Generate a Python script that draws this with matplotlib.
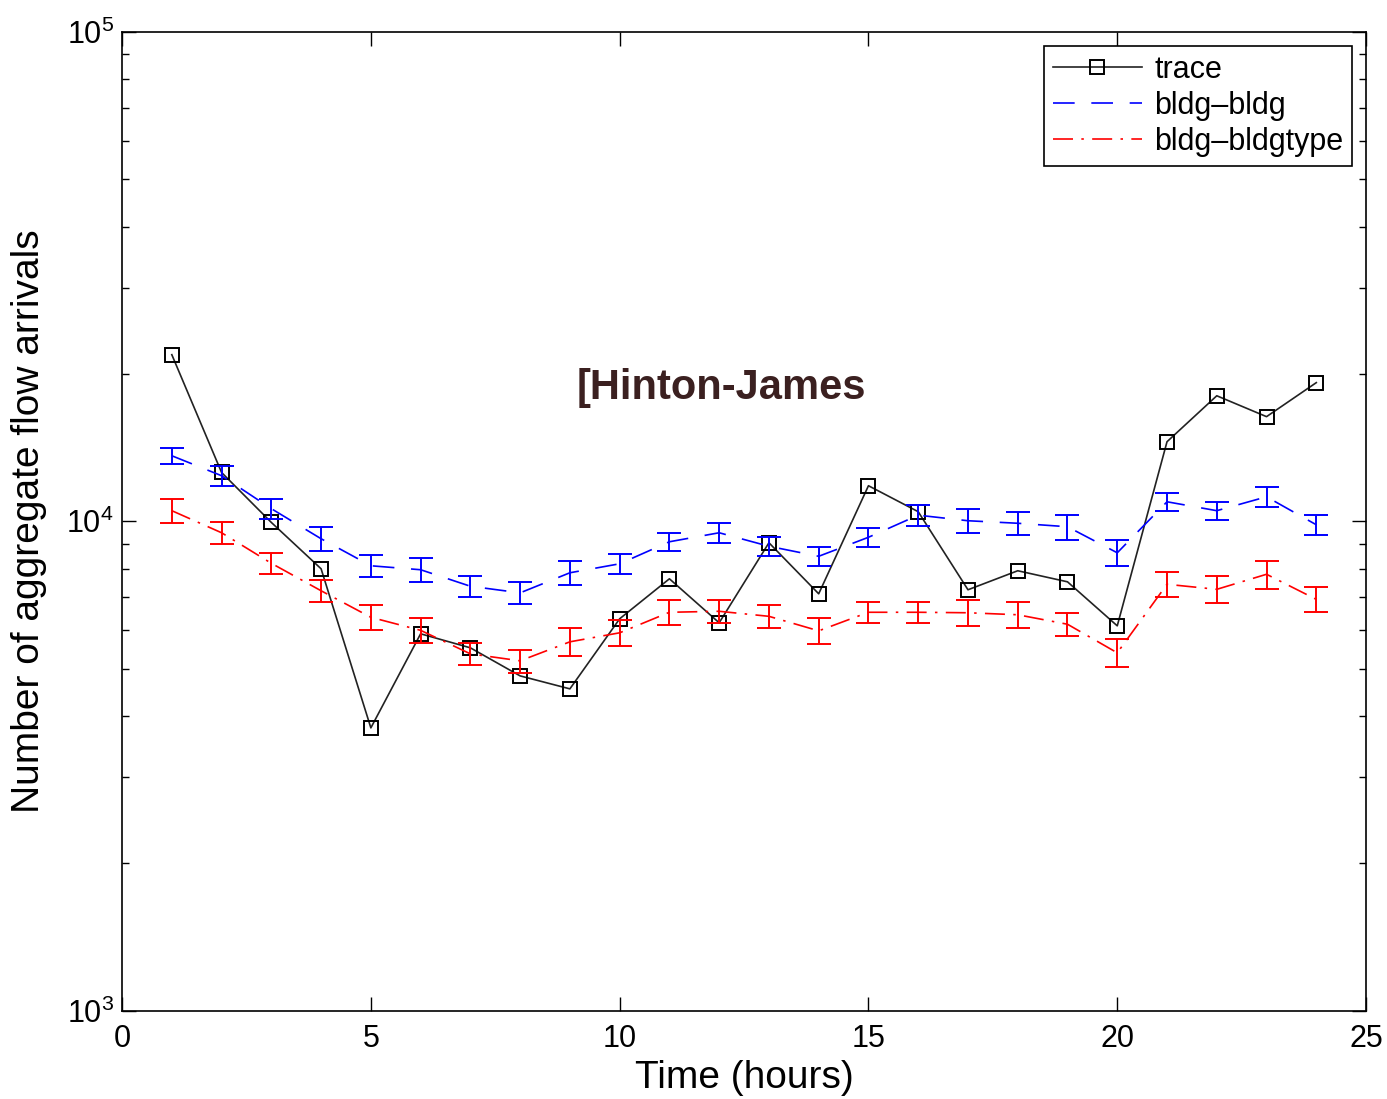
import matplotlib
matplotlib.use('Agg')
import matplotlib.pyplot as plt

plt.rcParams['font.family'] = ['Liberation Sans', 'DejaVu Sans']

# hourly aggregate flow arrivals
hours = list(range(1, 25))

trace = [21900, 12580, 9944, 7995, 3782, 5888, 5512, 4830, 4544, 6319, 7628, 6201,
         9038, 7108, 11820, 10460, 7244, 7922, 7520, 6113, 14540, 18050, 16360, 19200]

bldg_bldg = [13610, 12390, 10610, 9210, 8110, 7960, 7365, 7140, 7847, 8186, 9080, 9473,
             8890, 8480, 9274, 10290, 10024, 9906, 9745, 8621, 10960, 10510, 11220, 9836]
bldg_bldg_err = [520, 560, 510, 530, 430, 460, 370, 380, 450, 400, 390, 450,
                 400, 380, 420, 510, 570, 540, 570, 530, 460, 440, 530, 460]

bldg_type = [10510, 9473, 8205, 7210, 6364, 5985, 5358, 5185, 5670, 5916, 6516, 6546,
             6393, 5971, 6516, 6516, 6501, 6440, 6159, 5384, 7433, 7259, 7792, 6924]
bldg_type_err = [600, 500, 400, 370, 370, 350, 280, 280, 370, 360, 390, 360,
                 350, 370, 320, 320, 400, 400, 330, 350, 440, 460, 520, 410]

fig = plt.figure(figsize=(13.87, 10.99), dpi=100)
ax = fig.add_axes([0.088, 0.0805, 0.8969, 0.8904])

ax.plot(hours, trace, color='#222222', lw=1.2, marker='s', ms=9.5,
        mfc='none', mec='black', mew=1.4, label='trace')
ax.plot(hours, bldg_bldg, color='blue', lw=1.2, dashes=(13, 10), label='bldg\u2013bldg')
ax.plot(hours, bldg_type, color='red', lw=1.2, dashes=(12, 5, 1.5, 5), label='bldg\u2013bldgtype')

ax.errorbar(hours, bldg_bldg, yerr=bldg_bldg_err, fmt='none', ecolor='blue',
            elinewidth=1.4, capsize=8.5, capthick=1.4)
ax.errorbar(hours, bldg_type, yerr=bldg_type_err, fmt='none', ecolor='red',
            elinewidth=1.4, capsize=8.5, capthick=1.4)

ax.set_yscale('log')
ax.set_xlim(0, 25)
ax.set_ylim(1e3, 1e5)
ax.set_xticks([0, 5, 10, 15, 20, 25])

ax.tick_params(which='both', direction='in', top=True, right=True, labelsize=22, width=1)
ax.tick_params(which='major', length=10)
ax.tick_params(axis='x', which='major', pad=10)
ax.tick_params(axis='y', which='major', pad=6)
ax.tick_params(which='minor', length=5)
for s in ax.spines.values():
    s.set_linewidth(1.2)

ax.set_xlabel('Time (hours)', fontsize=28, labelpad=4)
ax.set_ylabel('Number of aggregate flow arrivals', fontsize=28, labelpad=14)

ax.text(9.14, 18750, '[Hinton-James', fontsize=30, fontweight='bold',
        color='#3b2020', ha='left', va='center')

leg = ax.legend(loc='upper right', fontsize=22, handlelength=2.9, borderpad=0.3,
                labelspacing=0.2, handletextpad=0.4, fancybox=False,
                edgecolor='black', framealpha=1, borderaxespad=0.45)
leg.get_frame().set_linewidth(1.2)

fig.savefig('out.png', dpi=100)
